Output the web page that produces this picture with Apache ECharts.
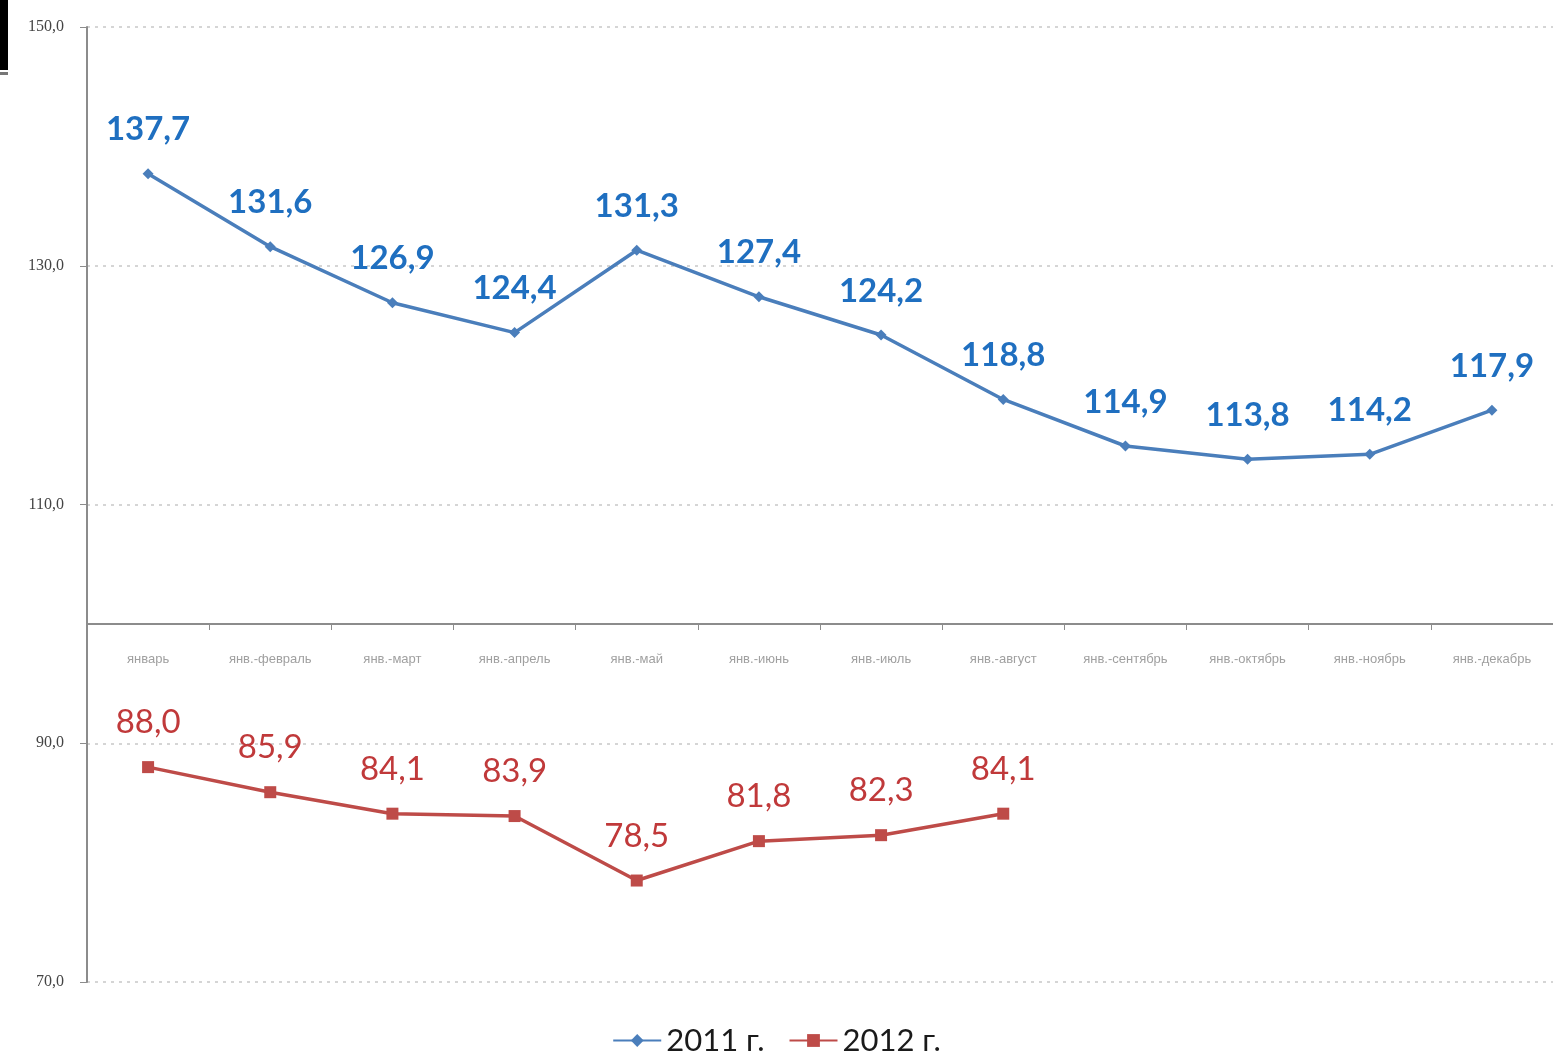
<!DOCTYPE html>
<html>
<head>
<meta charset="utf-8">
<script src="https://cdn.jsdelivr.net/npm/echarts@6/dist/echarts.min.js"></script>
<style>
  html, body { margin: 0; padding: 0; background: #fff; }
  #chart { width: 1553px; height: 1057px; }
</style>
</head>
<body>
<div id="chart"></div>
<script>
// периоды нарастающим итогом
const categories = [
  'январь', 'янв.-февраль', 'янв.-март', 'янв.-апрель', 'янв.-май', 'янв.-июнь',
  'янв.-июль', 'янв.-август', 'янв.-сентябрь', 'янв.-октябрь', 'янв.-ноябрь', 'янв.-декабрь'
]
const values2011 = [137.7, 131.6, 126.9, 124.4, 131.3, 127.4, 124.2, 118.8, 114.9, 113.8, 114.2, 117.9]
const values2012 = [88.0, 85.9, 84.1, 83.9, 78.5, 81.8, 82.3, 84.1]
const seriesNames = ['2011 г.', '2012 г.']

const fmt = v => v.toFixed(1).replace('.', ',')

const chart = echarts.init(document.getElementById('chart'))

const option = {
  backgroundColor: '#fff',
  animation: false,
  grid: { left: 87, top: 27, width: 1471, bottom: 75 },
  legend: {
    bottom: -4,
    left: 'center',
    itemWidth: 48,
    itemHeight: 16,
    itemGap: 24,
    textStyle: { fontFamily: 'Lato', fontSize: 31, color: '#1a1a1a' },
    data: seriesNames
  },
  xAxis: {
    type: 'category',
    data: categories,
    offset: -358,
    axisLine: { onZero: false, lineStyle: { color: '#8c8c8c', width: 2 } },
    axisTick: { show: true, length: 6, lineStyle: { color: '#8c8c8c' } },
    axisLabel: { color: '#a0a0a0', fontSize: 13, fontFamily: 'Liberation Sans', margin: 29 }
  },
  yAxis: {
    type: 'value',
    min: 70,
    max: 150,
    interval: 20,
    axisLine: { show: true, lineStyle: { color: '#8c8c8c', width: 2 } },
    axisTick: { show: true, length: 7, lineStyle: { color: '#8c8c8c' } },
    axisLabel: { formatter: v => fmt(v), color: '#444', fontSize: 16, fontFamily: 'Liberation Serif', margin: 23 },
    splitLine: { show: true, lineStyle: { color: '#c8c8c8', type: [3, 5], width: 1.5 } }
  },
  series: [
    {
      name: seriesNames[0],
      type: 'line',
      data: values2011,
      symbol: 'diamond',
      symbolSize: 11,
      color: '#4a7ebb',
      lineStyle: { width: 3.5, color: '#4a7ebb' },
      label: {
        show: true,
        position: 'top',
        distance: 22,
        formatter: p => fmt(p.value),
        color: '#1f6fc0',
        fontFamily: 'Lato',
        fontWeight: 'bold',
        fontSize: 33
      }
    },
    {
      name: seriesNames[1],
      type: 'line',
      data: values2012,
      symbol: 'rect',
      symbolSize: 12,
      color: '#be4b48',
      lineStyle: { width: 3.5, color: '#be4b48' },
      label: {
        show: true,
        position: 'top',
        distance: 22,
        formatter: p => fmt(p.value),
        color: '#c0393a',
        fontFamily: 'Lato',
        fontSize: 33
      }
    }
  ],
  graphic: [
    { type: 'rect', left: 0, top: 0, shape: { width: 8, height: 70 }, style: { fill: '#000' } },
    { type: 'rect', left: 0, top: 72, shape: { width: 8, height: 3 }, style: { fill: '#777' } }
  ]
}

chart.setOption(option)
</script>
</body>
</html>
